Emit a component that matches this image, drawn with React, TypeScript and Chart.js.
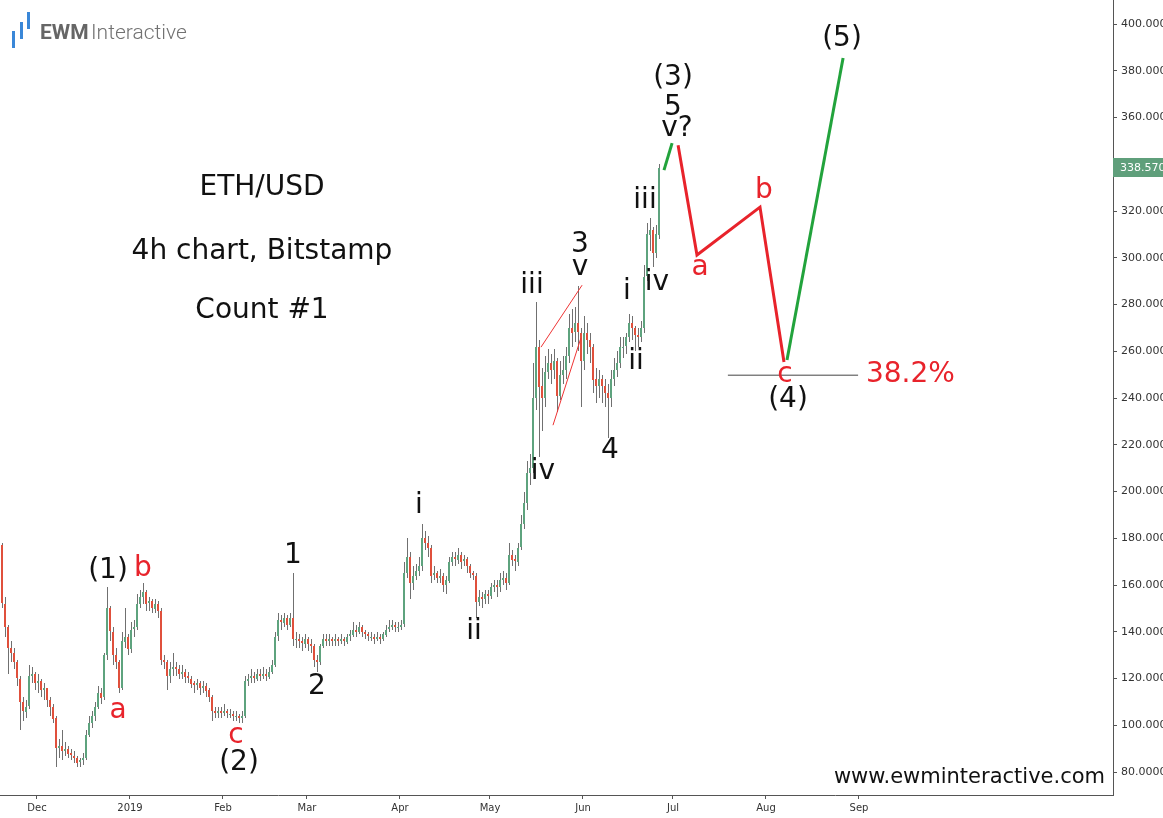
import React, { useEffect, useRef } from 'react';
import { Chart, registerables } from 'chart.js';

Chart.register(...registerables);

const FONT = '"DejaVu Sans", Verdana, sans-serif';
const BLACK = '#111111';
const RED = '#e8232b';
const GREEN = '#22a33c';

// Day index: days since 1 Dec 2018. Daily candles start 19 Nov 2018.
const START_DAY = -12;
const FIRST_OPEN = 177;
const X_MIN = -12.33;
const X_MAX = 358.67;
const Y_MIN = 70.2;
const Y_MAX = 410.3;

const closes = [
  152, 142, 133, 131, 127, 120, 110, 106, 108, 121, 122, 118,
  119, 115, 116, 111, 108, 103, 90, 91, 89, 90,
  88, 87, 86, 84, 85, 86, 96, 101, 104, 108,
  114, 112, 130, 150, 140, 130, 127, 116, 136, 138,
  133, 141, 142, 152, 155, 157, 152, 153, 150, 152,
  149, 128, 127, 121, 124, 125, 124, 122, 123, 121,
  120, 118, 117, 118, 116, 117, 115, 112, 106, 105,
  106, 105, 106, 105, 105, 104, 104, 103, 104, 119,
  120, 121, 120, 122, 121, 122, 121, 123, 126, 138,
  145, 144, 146, 143, 146, 137, 137, 136, 135, 137,
  135, 134, 128, 127, 134, 137, 136, 137, 136, 137,
  136, 137, 136, 138, 139, 141, 140, 142, 140, 139,
  138, 138, 137, 138, 137, 139, 141, 142, 143, 142,
  142, 143, 165, 172, 161, 164, 166, 168, 180, 178,
  176, 164, 165, 163, 164, 160, 162, 170, 172, 171,
  173, 170, 171, 168, 165, 164, 153, 155, 154, 156,
  155, 159, 160, 159, 162, 163, 161, 173, 171, 170,
  176, 186, 195, 208, 210, 240, 262, 245, 240, 251,
  255, 252, 256, 241, 250, 252, 258, 270, 268, 272,
  268, 256, 268, 265, 262, 248, 245, 248, 245, 242,
  240, 248, 252, 255, 262, 262, 266, 272, 270, 267,
  266, 270, 292, 310, 312, 302, 310, 338.57,
];

const highs = [
  178, 155, 143, 136, 133, 128, 121, 112, 111, 126, 125, 123,
  122, 120, 118, 116, 112, 109, 104, 94, 98, 93,
  91, 90, 89, 87, 86, 88, 98, 104, 106, 110,
  117, 116, 131, 159, 151, 142, 133, 128, 140, 150,
  139, 144, 145, 156, 158, 161, 158, 155, 154, 154,
  153, 150, 130, 128, 127, 131, 127, 126, 126, 124,
  123, 121, 119, 120, 119, 119, 118, 116, 113, 108,
  108, 108, 109, 107, 107, 106, 106, 105, 106, 121,
  122, 124, 123, 124, 124, 125, 124, 125, 128, 140,
  148, 147, 148, 147, 148, 165, 140, 139, 138, 139,
  138, 137, 135, 130, 135, 139, 139, 139, 138, 139,
  138, 139, 138, 139, 141, 144, 143, 144, 143, 141,
  140, 140, 139, 140, 139, 140, 143, 145, 145, 144,
  144, 145, 170, 180, 174, 168, 169, 172, 186, 183,
  181, 177, 168, 166, 167, 165, 164, 172, 174, 174,
  176, 174, 173, 172, 169, 166, 165, 158, 157, 158,
  158, 161, 162, 162, 165, 166, 165, 178, 175, 173,
  178, 190, 200, 213, 216, 255, 281, 265, 253, 258,
  261, 259, 261, 257, 256, 258, 262, 276, 278, 279,
  288, 270, 275, 272, 268, 263, 253, 252, 250, 248,
  246, 252, 257, 260, 266, 266, 268, 276, 275, 271,
  270, 273, 297, 315, 317, 313, 314, 340,
];

const lows = [
  150, 138, 122, 127, 124, 117, 98, 102, 103, 107, 118, 115,
  114, 112, 111, 108, 104, 101, 82, 86, 85, 87,
  86, 85, 84, 82, 82, 83, 85, 95, 99, 102,
  107, 109, 111, 128, 136, 126, 124, 114, 115, 133,
  130, 131, 138, 141, 150, 152, 149, 149, 148, 148,
  146, 126, 124, 115, 118, 121, 121, 120, 120, 118,
  118, 116, 114, 115, 113, 114, 112, 110, 102, 103,
  103, 103, 104, 103, 103, 102, 102, 101, 101, 103,
  117, 118, 118, 119, 119, 120, 119, 120, 122, 125,
  136, 141, 142, 141, 142, 134, 133, 133, 132, 133,
  132, 131, 125, 123, 126, 133, 134, 134, 134, 134,
  134, 135, 134, 135, 136, 138, 138, 139, 138, 137,
  136, 136, 135, 136, 135, 136, 138, 140, 141, 140,
  140, 141, 142, 163, 154, 158, 162, 164, 166, 175,
  172, 161, 162, 161, 161, 157, 156, 161, 168, 168,
  169, 167, 168, 165, 163, 162, 146, 151, 150, 152,
  152, 154, 157, 155, 157, 160, 158, 160, 168, 166,
  168, 175, 184, 192, 203, 208, 235, 215, 226, 236,
  248, 246, 248, 234, 239, 246, 248, 255, 262, 264,
  260, 236, 252, 259, 255, 242, 238, 240, 238, 236,
  223, 236, 245, 249, 253, 257, 259, 264, 265, 260,
  262, 264, 268, 290, 303, 296, 300, 308,
];

const monthTicks = [0, 31, 62, 90, 121, 151, 182, 212, 243, 274];
const monthLabels = ['Dec', '2019', 'Feb', 'Mar', 'Apr', 'May', 'Jun', 'Jul', 'Aug', 'Sep'];
const priceTicks = [80, 100, 120, 140, 160, 180, 200, 220, 240, 260, 280, 300, 320, 340, 360, 380, 400];
const LAST_PRICE = 338.57;

// Elliott-wave projection paths (day, price)
const projGreenShort = [{ x: 209, y: 337.5 }, { x: 211.7, y: 349.1 }];
const projRed = [{ x: 213.7, y: 348.2 }, { x: 220, y: 301.2 }, { x: 241, y: 321.7 }, { x: 249, y: 255.4 }];
const projGreenLong = [{ x: 250, y: 256.3 }, { x: 268.7, y: 385.5 }];
const triUpper = [{ x: 168, y: 261.8 }, { x: 181.7, y: 288.3 }];
const triLower = [{ x: 172, y: 228.4 }, { x: 181.3, y: 265.7 }];
const fibLine = [{ x: 230.3, y: 249.8 }, { x: 273.7, y: 249.8 }];

const waveText = ['(1)', 'b', 'a', 'c', '(2)', '1', '2', 'i', 'ii', 'iii', 'iv', '3', 'v', '4', 'i', 'ii', 'iii', 'iv', '(3)', '5', 'v?', 'a', 'b', 'c', '(4)', '(5)'];
const waveDay = [23.67, 35.33, 27, 66.33, 67.33, 85.33, 93.33, 127.33, 145.67, 165, 168.67, 181, 181, 191, 196.67, 199.67, 202.67, 206.67, 212, 212, 213.33, 221, 242.33, 249.33, 250.33, 268.33];
const wavePrice = [166.0, 166.8, 106.1, 95.4, 83.9, 172.4, 116.4, 193.8, 139.9, 287.9, 208.3, 305.5, 295.6, 217.3, 285.3, 255.4, 324.3, 289.2, 376.9, 364.1, 355.1, 295.6, 328.6, 249.8, 239.1, 393.6];
const waveRed = [false, true, true, true, false, false, false, false, false, false, false, false, false, false, false, false, false, false, false, false, false, true, true, true, false, false];
const fibLabel = { text: '38.2%', day: 276.33, price: 249.8 };

const candlePlugin = {
  id: 'candles',
  beforeDatasetsDraw(chart: any) {
    const { ctx, scales, chartArea } = chart;
    const xs = scales.x;
    const ys = scales.y;
    ctx.save();
    ctx.beginPath();
    ctx.rect(chartArea.left, chartArea.top, chartArea.right - chartArea.left, chartArea.bottom - chartArea.top);
    ctx.clip();
    let open = FIRST_OPEN;
    for (let i = 0; i < closes.length; i++) {
      const close = closes[i];
      const cx = Math.round(xs.getPixelForValue(START_DAY + i + 0.5));
      const yH = ys.getPixelForValue(highs[i]);
      const yL = ys.getPixelForValue(lows[i]);
      const yO = ys.getPixelForValue(open);
      const yC = ys.getPixelForValue(close);
      ctx.fillStyle = '#707070';
      ctx.fillRect(cx, Math.round(yH), 1, Math.max(1, Math.round(yL) - Math.round(yH)));
      ctx.fillStyle = close >= open ? '#5ea37e' : '#e0503c';
      const top = Math.round(Math.min(yO, yC));
      const h = Math.max(1, Math.round(Math.abs(yO - yC)));
      ctx.fillRect(cx - 1, top, 2, h);
      open = close;
    }
    ctx.restore();
  },
};

const overlayPlugin = {
  id: 'overlay',
  afterDraw(chart: any) {
    const { ctx, scales, chartArea } = chart;
    const xs = scales.x;
    const ys = scales.y;
    ctx.save();
    // wave labels
    ctx.textAlign = 'center';
    ctx.textBaseline = 'middle';
    ctx.font = `28px ${FONT}`;
    for (let i = 0; i < waveText.length; i++) {
      ctx.fillStyle = waveRed[i] ? RED : BLACK;
      ctx.fillText(waveText[i], xs.getPixelForValue(waveDay[i]), ys.getPixelForValue(wavePrice[i]));
    }
    ctx.textAlign = 'left';
    ctx.fillStyle = RED;
    ctx.fillText(fibLabel.text, xs.getPixelForValue(fibLabel.day), ys.getPixelForValue(fibLabel.price));

    // titles
    ctx.fillStyle = BLACK;
    ctx.textAlign = 'center';
    ctx.font = `28px ${FONT}`;
    const cxT = chartArea.left + 262;
    ctx.fillText('ETH/USD', cxT, 188);
    ctx.fillText('4h chart, Bitstamp', cxT, 252);
    ctx.fillText('Count #1', cxT, 311);

    // website
    ctx.textAlign = 'right';
    ctx.font = `21px ${FONT}`;
    ctx.fillText('www.ewminteractive.com', chartArea.right - 8, 778);

    // logo
    ctx.fillStyle = '#3a87d8';
    ctx.fillRect(12, 31, 3, 17);
    ctx.fillRect(20, 22, 3, 17);
    ctx.fillRect(27, 12, 3, 17);
    ctx.textAlign = 'left';
    ctx.textBaseline = 'alphabetic';
    ctx.fillStyle = '#666666';
    ctx.font = `bold 21px Roboto, ${FONT}`;
    ctx.fillText('EWM', 40, 39);
    ctx.fillStyle = '#727272';
    ctx.font = `300 21px Roboto, ${FONT}`;
    ctx.fillText('Interactive', 91, 39);

    // last price tag
    const yp = Math.round(ys.getPixelForValue(LAST_PRICE));
    ctx.fillStyle = '#5f9f7b';
    ctx.fillRect(chartArea.right, yp - 10, 60, 19);
    ctx.fillStyle = '#ffffff';
    ctx.font = `11px ${FONT}`;
    ctx.textBaseline = 'middle';
    ctx.fillText(LAST_PRICE.toFixed(4), chartArea.right + 7, yp);
    ctx.restore();
  },
};

export default function App() {
  const ref = useRef<HTMLCanvasElement>(null);
  useEffect(() => {
    const canvas = ref.current!;
    const lineDs = (data: any[], color: string, width: number) => ({
      type: 'line',
      data,
      borderColor: color,
      borderWidth: width,
      pointRadius: 0,
      fill: false,
      tension: 0,
    });
    const chart = new Chart(canvas, {
      type: 'line',
      data: {
        datasets: [
          lineDs(triUpper, '#ee3333', 1),
          lineDs(triLower, '#ee3333', 1),
          lineDs(fibLine, '#444444', 1),
          lineDs(projGreenShort, GREEN, 3),
          lineDs(projRed, RED, 3),
          lineDs(projGreenLong, GREEN, 3),
        ] as any,
      },
      options: {
        animation: false,
        responsive: false,
        devicePixelRatio: 1,
        layout: { padding: 0 },
        plugins: { legend: { display: false }, tooltip: { enabled: false } },
        scales: {
          x: {
            type: 'linear',
            position: 'bottom',
            min: X_MIN,
            max: X_MAX,
            afterBuildTicks: (s: any) => {
              s.ticks = monthTicks.map((v) => ({ value: v }));
            },
            afterFit: (s: any) => {
              s.height = 23;
              s.paddingLeft = 0;
              s.paddingRight = 0;
            },
            ticks: {
              autoSkip: false,
              maxRotation: 0,
              padding: 3,
              color: '#333333',
              font: { family: FONT, size: 10 },
              callback: (v: any) => {
                const idx = monthTicks.indexOf(Number(v));
                return idx >= 0 ? monthLabels[idx] : '';
              },
            },
            grid: { drawOnChartArea: false, drawTicks: true, tickLength: 4, color: '#555555' },
            border: { display: true, color: '#555555', width: 1 },
          },
          y: {
            type: 'linear',
            position: 'right',
            min: Y_MIN,
            max: Y_MAX,
            afterBuildTicks: (s: any) => {
              s.ticks = priceTicks.map((v) => ({ value: v }));
            },
            afterFit: (s: any) => {
              s.width = 50;
              s.paddingTop = 0;
              s.paddingBottom = 0;
            },
            ticks: {
              padding: 4,
              color: '#333333',
              font: { family: FONT, size: 11 },
              callback: (v: any) => Number(v).toFixed(4),
            },
            grid: { drawOnChartArea: false, drawTicks: true, tickLength: 4, color: '#555555' },
            border: { display: true, color: '#555555', width: 1 },
          },
        },
      } as any,
      plugins: [candlePlugin, overlayPlugin],
    });
    return () => chart.destroy();
  }, []);
  return (
    <div style={{ position: 'fixed', left: 0, top: 0, width: 1163, height: 818, background: '#ffffff' }}>
      <canvas ref={ref} width={1163} height={818} style={{ display: 'block' }} />
    </div>
  );
}
